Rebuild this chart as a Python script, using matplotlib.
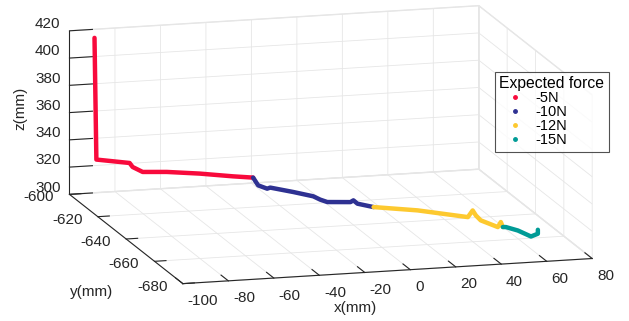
import numpy as np
import matplotlib
matplotlib.use("Agg")
import matplotlib.pyplot as plt
from matplotlib.lines import Line2D
from matplotlib.transforms import ScaledTranslation

plt.rcParams['font.family'] = ['Liberation Sans', 'DejaVu Sans']
plt.rcParams['grid.color'] = '#e6e6e6'
plt.rcParams['grid.linewidth'] = 0.6
plt.rcParams['axes.unicode_minus'] = False

# trajectory waypoints (mm), one list per expected force
red_x = [-89.0, -88.3, -76.8, -75.6, -72.3, -64.0, -52.6, -41.2, -34.2]
red_y = [-600.0, -600.2, -605.2, -605.4, -607.2, -610.9, -615.9, -621.0, -624.0]
red_z = [413.7, 324.5, 324.9, 322.0, 319.5, 321.7, 323.4, 324.4, 325.2]

blue_x = [-34.2, -32.5, -29.4, -28.3, -20.4, -13.5, -11.1, -8.7, -0.7, 0.3, 1.7, 7.3]
blue_y = [-624.0, -624.8, -626.2, -626.6, -630.2, -633.2, -634.3, -635.4, -638.9, -639.4, -640.0, -642.4]
blue_z = [325.2, 320.0, 318.4, 319.4, 318.3, 316.9, 315.1, 314.0, 316.0, 317.6, 315.5, 314.4]

yellow_x = [7.3, 22.4, 39.8, 41.4, 42.5, 44.2, 50.1, 51.1, 51.8]
yellow_y = [-642.4, -649.2, -656.8, -657.6, -658.1, -658.8, -661.4, -661.9, -662.2]
yellow_z = [314.4, 316.0, 315.5, 320.9, 317.5, 314.3, 310.9, 314.9, 311.4]

teal_x = [51.8, 52.9, 57.0, 61.5, 63.9, 63.9]
teal_y = [-662.2, -662.6, -664.5, -666.5, -667.5, -667.5]
teal_z = [311.4, 311.6, 310.2, 307.0, 309.6, 312.5]

force_labels = ['-5N', '-10N', '-12N', '-15N']
colors = ['#f80a3c', '#2e3192', '#fdc92f', '#009b96']

x_ticks = [-100, -80, -60, -40, -20, 0, 20, 40, 60, 80]
y_ticks = [-680, -660, -640, -620, -600]
z_ticks = [300, 320, 340, 360, 380, 400, 420]

fig = plt.figure(figsize=(6.29, 3.21), dpi=100)
ax = fig.add_axes([12 / 629, 11.5 / 321, 1.0, 1.0], projection='3d', proj_type='ortho')
ax.view_init(elev=12.7, azim=-105.6)
ax.set_box_aspect((1, 0.992, 0.3945), zoom=1.88)

segments = [(red_x, red_y, red_z), (blue_x, blue_y, blue_z),
            (yellow_x, yellow_y, yellow_z), (teal_x, teal_y, teal_z)]
for (xs, ys, zs), c in zip(segments, colors):
    ax.plot(xs, ys, zs, color=c, lw=3.2, solid_capstyle='round', solid_joinstyle='round',
            clip_on=False)

ax.set_xlim(-100, 80)
ax.set_ylim(-680, -600)
ax.set_zlim(300, 420)
ax.set_xticks(x_ticks)
ax.set_yticks(y_ticks)
ax.set_zticks(z_ticks)

tick_out = {'x': 0.8, 'y': 0.35, 'z': 0.7}
for name, axis in zip('xyz', (ax.xaxis, ax.yaxis, ax.zaxis)):
    axis.set_pane_color((1, 1, 1, 1))
    axis.pane.set_edgecolor('#e6e6e6')
    axis.line.set_color('#262626')
    axis.line.set_linewidth(0.8)
    axis._axinfo['tick']['inward_factor'] = 0.0
    axis._axinfo['tick']['outward_factor'] = tick_out[name]
ax.tick_params(labelsize=11, colors='#262626', width=0.8)
ax.xaxis.set_tick_params(pad=-3)
ax.yaxis.set_tick_params(pad=-3.5)
ax.zaxis.set_tick_params(pad=-3)

# small nudges so the tick labels sit where MATLAB puts them
x_shift = ScaledTranslation(7 / 100, 2 / 100, fig.dpi_scale_trans)
y_shift = ScaledTranslation(1 / 100, -3 / 100, fig.dpi_scale_trans)
for t in ax.xaxis.get_major_ticks():
    t.label1.set_horizontalalignment('left')
    t.label1.set_transform(t.label1.get_transform() + x_shift)
for t in ax.yaxis.get_major_ticks():
    t.label1.set_horizontalalignment('right')
    t.label1.set_verticalalignment('baseline')
    t.label1.set_transform(t.label1.get_transform() + y_shift)
for t in ax.zaxis.get_major_ticks():
    t.label1.set_verticalalignment('baseline')

fig.text(355 / 629, 1 - 308 / 321, 'x(mm)', fontsize=11, color='#262626', ha='center', va='center')
fig.text(92 / 629, 1 - 292 / 321, 'y(mm)', fontsize=11, color='#262626', ha='center', va='center')
fig.text(20 / 629, 1 - 108 / 321, 'z(mm)', fontsize=11, color='#262626', ha='center', va='center',
         rotation=90)

handles = [Line2D([], [], ls='', marker='.', ms=5, color=c) for c in colors]
leg = fig.legend(handles, force_labels, title='Expected force', loc='upper left',
                 bbox_to_anchor=(495 / 629, 1 - 72 / 321), fontsize=10.5, title_fontsize=11.3,
                 frameon=True, fancybox=False, edgecolor='#262626', borderpad=0.3,
                 handletextpad=0.35, labelspacing=0.0, handlelength=2.1, borderaxespad=0,
                 alignment='left')
leg.get_frame().set_linewidth(0.8)

fig.savefig('out.png', dpi=100)
